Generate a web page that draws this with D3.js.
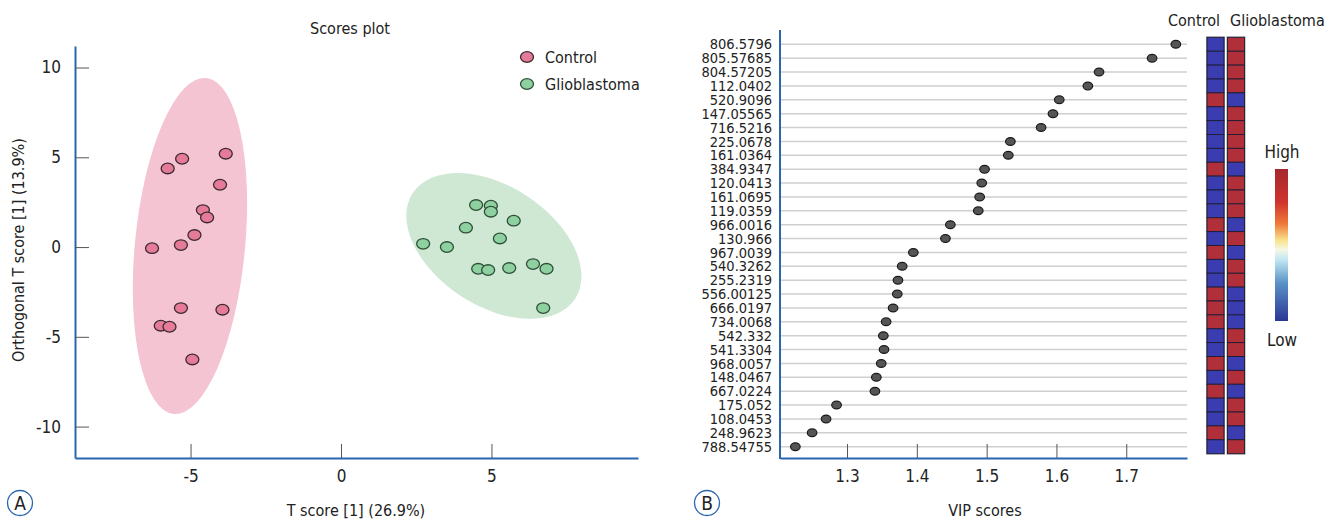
<!DOCTYPE html>
<html>
<head>
<meta charset="utf-8">
<script src="https://cdn.jsdelivr.net/npm/d3@7"></script>
<style>
  html, body { margin: 0; padding: 0; background: #fff; }
  svg { display: block; }
  text { font-family: 'Liberation Sans Narrow', 'DejaVu Sans Condensed', 'Roboto', sans-serif; fill: #222; }
</style>
</head>
<body>
<svg id="chart" width="1333" height="520"></svg>
<script>
// ---------- Panel A data ----------
const controlX = [-3.83, -5.28, -5.76, -4.02, -4.59, -4.45, -4.87, -5.32, -6.28, -5.32, -3.94, -5.99, -5.70, -4.94];
const controlY = [5.20, 4.92, 4.38, 3.47, 2.06, 1.65, 0.67, 0.11, -0.06, -3.40, -3.49, -4.38, -4.44, -6.26];
const glioX = [4.49, 4.98, 4.98, 5.74, 4.15, 5.28, 2.73, 3.52, 4.56, 4.89, 5.59, 6.38, 6.83, 6.72];
const glioY = [2.34, 2.30, 1.97, 1.47, 1.08, 0.48, 0.18, 0.00, -1.21, -1.28, -1.17, -0.95, -1.21, -3.40];
// ellipse: centre (data), semi-axes (data units before rotation), rotation (deg)
const controlEllipse = [-5.02, 0.06, 1.83, 9.4, 5.5];
const glioEllipse = [5.08, 0.06, 3.22, 3.34, 33];
const scoreXTicks = [-5, 0, 5];
const scoreYTicks = [-10, -5, 0, 5, 10];
const groups = ["Control", "Glioblastoma"];

// ---------- Panel B data ----------
const features = ["806.5796", "805.57685", "804.57205", "112.0402", "520.9096", "147.05565", "716.5216",
  "225.0678", "161.0364", "384.9347", "120.0413", "161.0695", "119.0359", "966.0016", "130.966",
  "967.0039", "540.3262", "255.2319", "556.00125", "666.0197", "734.0068", "542.332", "541.3304",
  "968.0057", "148.0467", "667.0224", "175.052", "108.0453", "248.9623", "788.54755"];
const vipScores = [1.771, 1.737, 1.661, 1.645, 1.604, 1.595, 1.578, 1.534, 1.531, 1.497, 1.493, 1.490,
  1.488, 1.448, 1.441, 1.395, 1.379, 1.373, 1.372, 1.366, 1.356, 1.352, 1.353, 1.349, 1.342, 1.340,
  1.285, 1.270, 1.250, 1.226];
// 1 = high, 0 = low
const controlLevel = [0,0,0,0,1,0,0,0,0,1,0,0,0,1,0,1,0,0,1,1,1,0,0,1,0,1,0,0,1,0];
const glioLevel    = [1,1,1,1,0,1,1,1,1,0,1,1,1,0,1,0,1,1,0,0,0,1,1,0,1,0,1,1,0,1];
const vipTicks = [1.3, 1.4, 1.5, 1.6, 1.7];

const svg = d3.select("#chart");
const AXIS_BLUE = "#2a66b0";
const PINK_FILL = "#f5c4d2", GREEN_FILL = "#cfe8d4";
const FONT = "'Liberation Sans Narrow', 'DejaVu Sans Condensed', sans-serif";

// ================= Panel A =================
const xA = d3.scaleLinear().domain([-8.84, 9.87]).range([75, 638]);
const yA = d3.scaleLinear().domain([-11.75, 11.2]).range([458, 46]);
const gA = svg.append("g");

function drawEllipse(e, fill) {
  const [cx, cy, rx, ry, rot] = e;
  const px = xA(cx), py = yA(cy);
  const prx = Math.abs(xA(rx) - xA(0)), pry = Math.abs(yA(ry) - yA(0));
  gA.append("ellipse").attr("cx", 0).attr("cy", 0).attr("rx", prx).attr("ry", pry)
    .attr("transform", `translate(${px},${py}) rotate(${rot})`)
    .attr("fill", fill);
}
drawEllipse(controlEllipse, PINK_FILL);
drawEllipse(glioEllipse, GREEN_FILL);

// axes
const hyphen = d => String(d);
const axA_x = d3.axisBottom(xA).tickValues(scoreXTicks).tickFormat(hyphen).tickSizeInner(-14).tickSizeOuter(0).tickPadding(12);
const axA_y = d3.axisLeft(yA).tickValues(scoreYTicks).tickFormat(hyphen).tickSizeInner(-14).tickSizeOuter(0).tickPadding(12);
const gx = gA.append("g").attr("transform", "translate(0,458)").call(axA_x);
const gy = gA.append("g").attr("transform", "translate(75,0)").call(axA_y);
[gx, gy].forEach(g => {
  g.select(".domain").attr("stroke", AXIS_BLUE).attr("stroke-width", 2);
  g.selectAll(".tick line").attr("stroke", "#555").attr("stroke-width", 1);
  g.selectAll(".tick text").style("font-size", "17px").attr("fill", "#222").style("font-family", FONT);
});
gy.selectAll(".tick text").attr("x", -14);

// points
function drawPoints(xs, ys, fill, stroke) {
  gA.append("g").selectAll("ellipse").data(xs.map((x, i) => [x, ys[i]])).join("ellipse")
    .attr("cx", d => xA(d[0])).attr("cy", d => yA(d[1]))
    .attr("rx", 6.5).attr("ry", 5.3)
    .attr("fill", fill).attr("stroke", stroke).attr("stroke-width", 1.3);
}
drawPoints(controlX, controlY, "#e57b99", "#3a2a30");
drawPoints(glioX, glioY, "#8fd0a0", "#2c4f36");

// title / labels
gA.append("text").attr("x", 350).attr("y", 34).attr("text-anchor", "middle")
  .style("font-size", "16px").text("Scores plot");
gA.append("text").attr("x", 356).attr("y", 516).attr("text-anchor", "middle")
  .style("font-size", "16px").text("T score [1] (26.9%)");
gA.append("text").attr("transform", "translate(24,250) rotate(-90)").attr("text-anchor", "middle")
  .style("font-size", "16px").text("Orthogonal T score [1] (13.9%)");

// legend
const legFill = [["#e57b99", "#3a2a30"], ["#8fd0a0", "#2c4f36"]];
groups.forEach((g, i) => {
  const y = 57 + i * 27;
  gA.append("ellipse").attr("cx", 527).attr("cy", y).attr("rx", 6.5).attr("ry", 5.3)
    .attr("fill", legFill[i][0]).attr("stroke", legFill[i][1]).attr("stroke-width", 1.3);
  gA.append("text").attr("x", 545).attr("y", y + 6).style("font-size", "16px").text(g);
});

// panel letters
function panelLetter(cx, letter) {
  svg.append("circle").attr("cx", cx).attr("cy", 503).attr("r", 12.5)
    .attr("fill", "none").attr("stroke", AXIS_BLUE).attr("stroke-width", 1.3);
  svg.append("text").attr("x", cx).attr("y", 510).attr("text-anchor", "middle")
    .style("font-size", "19px").text(letter);
}
panelLetter(20, "A");
panelLetter(707, "B");

// ================= Panel B =================
const xB = d3.scaleLinear().domain([1.204, 1.787]).range([780, 1187]);
const yB = d3.scalePoint().domain(features).range([44.3, 446.7]);
const gB = svg.append("g");
const step = yB.step();

// gridlines
gB.append("g").selectAll("line").data(features).join("line")
  .attr("x1", 781).attr("x2", 1187)
  .attr("y1", d => yB(d)).attr("y2", d => yB(d))
  .attr("stroke", "#cfcfcf").attr("stroke-width", 1.5);

// axes
const axB_x = d3.axisBottom(xB).tickValues(vipTicks).tickFormat(d3.format(".1f"))
  .tickSizeInner(-14).tickSizeOuter(0).tickPadding(12);
const gbx = gB.append("g").attr("transform", "translate(0,458)").call(axB_x);
gbx.select(".domain").attr("stroke", AXIS_BLUE).attr("stroke-width", 2);
gbx.selectAll(".tick line").attr("stroke", "#555");
gbx.selectAll(".tick text").style("font-size", "17px").attr("fill", "#222").style("font-family", FONT);

const axB_y = d3.axisLeft(yB).tickSize(0).tickPadding(8);
const gby = gB.append("g").attr("transform", "translate(780,0)").call(axB_y);
gby.select(".domain").remove();
gby.selectAll(".tick text").style("font-size", "14.5px").attr("fill", "#222").style("font-family", FONT);
gB.append("line").attr("x1", 780).attr("x2", 780).attr("y1", 30).attr("y2", 459)
  .attr("stroke", AXIS_BLUE).attr("stroke-width", 2);

// dots
gB.append("g").selectAll("ellipse").data(features).join("ellipse")
  .attr("cx", (d, i) => xB(vipScores[i])).attr("cy", d => yB(d))
  .attr("rx", 4.8).attr("ry", 3.9)
  .attr("fill", "#555").attr("stroke", "#1a1a1a").attr("stroke-width", 1.2);

// heatmap
const HIGH = "#b02f38", LOW = "#3a3cb0";
const heatCols = [[controlLevel, 1207], [glioLevel, 1227.5]];
heatCols.forEach(([lv, x0]) => {
  gB.append("rect").attr("x", x0 - 0.5).attr("y", yB(features[0]) - step / 2 - 0.5)
    .attr("width", 18).attr("height", step * features.length + 1)
    .attr("fill", "none").attr("stroke", "#9a9a9a").attr("stroke-width", 1);
  gB.append("g").selectAll("rect").data(features).join("rect")
    .attr("x", x0).attr("y", d => yB(d) - step / 2)
    .attr("width", 17).attr("height", step)
    .attr("fill", (d, i) => lv[i] ? HIGH : LOW)
    .attr("stroke", "#1c1c34").attr("stroke-width", 0.9);
});
gB.append("text").attr("x", 1220).attr("y", 26).attr("text-anchor", "end")
  .style("font-size", "16px").text(groups[0]);
gB.append("text").attr("x", 1230).attr("y", 26).attr("text-anchor", "start")
  .style("font-size", "16px").text(groups[1]);

// colour legend
const defs = svg.append("defs");
const grad = defs.append("linearGradient").attr("id", "hl").attr("x1", 0).attr("x2", 0).attr("y1", 0).attr("y2", 1);
[[0, "#a5282e"], [0.22, "#d0342c"], [0.36, "#ee7a3a"], [0.47, "#f8e38c"], [0.53, "#f6f7e4"],
 [0.6, "#bfe6f2"], [0.75, "#5a92c6"], [1, "#2a3696"]].forEach(([o, c]) =>
  grad.append("stop").attr("offset", o).attr("stop-color", c));
gB.append("rect").attr("x", 1275).attr("y", 169).attr("width", 13).attr("height", 152)
  .attr("fill", "url(#hl)");
gB.append("text").attr("x", 1282).attr("y", 158).attr("text-anchor", "middle")
  .style("font-size", "17px").text("High");
gB.append("text").attr("x", 1282).attr("y", 346).attr("text-anchor", "middle")
  .style("font-size", "17px").text("Low");
gB.append("text").attr("x", 985).attr("y", 516).attr("text-anchor", "middle")
  .style("font-size", "16px").text("VIP scores");
</script>
</body>
</html>
